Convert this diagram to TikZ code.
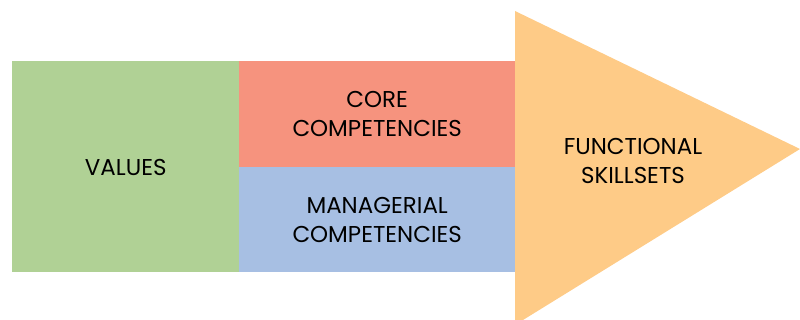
\documentclass[tikz,border=0pt]{standalone}
\usepackage{fontspec}
\setmainfont{Poppins}
\usetikzlibrary{positioning}
\definecolor{valgreen}{HTML}{B0D195}
\definecolor{corered}{HTML}{F6937E}
\definecolor{mgrblue}{HTML}{A7BFE3}
\definecolor{skillorange}{HTML}{FECB87}
\tikzset{
    block/.style = {rectangle,fill=#1,draw=none,text=black,align=center,inner sep=0pt,outer sep=0pt,
                    font=\fontsize{17.2}{21.75}\selectfont},
    wide/.style  = {minimum width=170.6pt, minimum height=158.25pt},
    half/.style  = {minimum width=206.6pt, minimum height=79.1pt},
    skill/.style = {fill=skillorange,draw=none}
}
\begin{document}
\begin{tikzpicture}[x=0.75pt,y=-0.75pt]
            \useasboundingbox (0,0) rectangle (800,320);
            \node[block=valgreen,wide,anchor=north west]    (values) at (12,61.5)  {VALUES};
            \node[block=corered,half]  (core) [right=0pt of values.north east, anchor=north west] {CORE\\COMPETENCIES};
            \node[block=mgrblue,half]  (mgr)  [below=0pt of core] {MANAGERIAL\\COMPETENCIES};

            \coordinate (top)  at (515,11);
            \coordinate (tip)  at (800,149);
            \coordinate (foot) at (523,320);
            \coordinate (base) at (515,320);
            \fill[skill] (top) -- (tip) -- (foot) -- (base) -- cycle;
            \node[block=none,fill=none] (func) at (633,161) {FUNCTIONAL\\SKILLSETS};
        \end{tikzpicture}
\end{document}
